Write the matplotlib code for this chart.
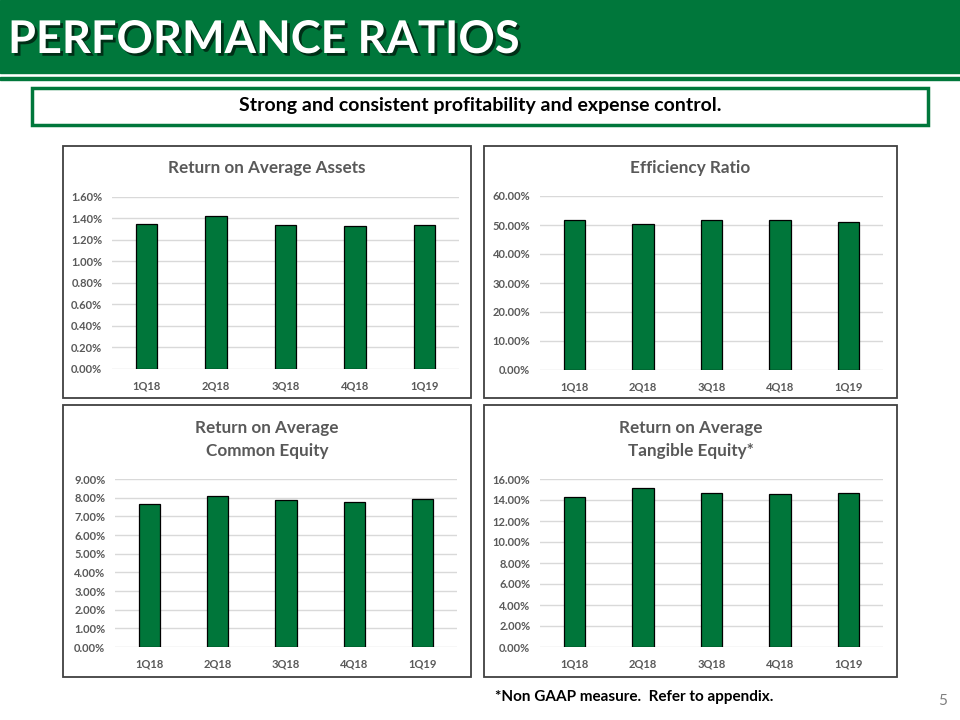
import matplotlib.pyplot as plt
import matplotlib.patches as pat
import matplotlib.patheffects as pe
from matplotlib.ticker import FuncFormatter

#---------------------- ** DATA ** ----------------------#
quarters = ['1Q18', '2Q18', '3Q18', '4Q18', '1Q19']
roaa = [1.35, 1.42, 1.34, 1.33, 1.34]
efficiency = [51.6, 50.5, 51.7, 51.6, 51.1]
roace = [7.66, 8.10, 7.86, 7.78, 7.91]
roate = [14.31, 15.17, 14.67, 14.57, 14.67]

GREEN = '#00763A'
GRAY = '#595959'
FONT = 'Lato'
W, H = 960, 720

plt.rcParams['font.family'] = [FONT, 'DejaVu Sans']
plt.rcParams['font.weight'] = 'bold'


#convert pixel box (left, top, right, bottom) into figure fractions
def px(l, t, r, b):
    return [l / W, 1 - b / H, (r - l) / W, (b - t) / H]


fig = plt.figure(figsize=(9.6, 7.2), dpi=100)
fig.patch.set_facecolor('white')

#header band
fig.add_artist(pat.Rectangle((0, 1 - 73 / H), 1, 73 / H, transform=fig.transFigure,
                             color='#00773B', zorder=0))
fig.add_artist(pat.Rectangle((0, 1 - 80 / H), 1, 3 / H, transform=fig.transFigure,
                             color='#00773B', zorder=0))
title = fig.text(8 / W, 1 - 40 / H, 'PERFORMANCE RATIOS', color='white', fontsize=32.5,
                 fontweight='bold', ha='left', va='center')
title.set_path_effects([pe.withSimplePatchShadow(offset=(2, -2), shadow_rgbFace='black', alpha=0.6)])

#subtitle box
fig.add_artist(pat.Rectangle((32 / W, 1 - 125 / H), 896 / W, 37 / H, transform=fig.transFigure,
                             facecolor='white', edgecolor='#00773B', linewidth=2.5))
fig.text(480 / W, 1 - 106 / H, 'Strong and consistent profitability and expense control.',
         fontsize=14, fontweight='bold', ha='center', va='center', color='black')

#panels: (values, title, frame box, axes box, ymax, step, title y positions)
panels = [
    (roaa, ['Return on Average Assets'], (63, 146, 471, 398), (112, 197, 459, 369), 1.6, 0.2, [168]),
    (efficiency, ['Efficiency Ratio'], (484, 146, 897, 398), (540, 196, 883, 370), 60, 10, [168]),
    (roace, ['Return on Average', 'Common Equity'], (63, 405, 471, 677), (115, 479, 457, 647), 9, 1, [428, 451]),
    (roate, ['Return on Average', 'Tangible Equity*'], (484, 405, 897, 677), (540, 479, 883, 647), 16, 2, [428, 451]),
]

for values, lines, frame, box, ymax, step, ty in panels:
    l, t, r, b = frame
    fig.add_artist(pat.Rectangle((l / W, 1 - b / H), (r - l) / W, (b - t) / H, transform=fig.transFigure,
                                 facecolor='none', edgecolor='#404040', linewidth=1.3))
    for line, y in zip(lines, ty):
        fig.text((l + r) / 2 / W, 1 - y / H, line, fontsize=12.3, fontweight='bold',
                 color=GRAY, ha='center', va='center')

    ax = fig.add_axes(px(*box))
    ax.bar(range(len(quarters)), values, width=0.31, color=GREEN, edgecolor='black',
           linewidth=0.9, zorder=3)
    ax.set_xlim(-0.5, len(quarters) - 0.5)
    ax.set_ylim(0, ymax)
    ticks = [i * step for i in range(int(round(ymax / step)) + 1)]
    ax.set_yticks(ticks)
    ax.yaxis.set_major_formatter(FuncFormatter(lambda v, p: f'{v:.2f}%'))
    ax.set_xticks(range(len(quarters)))
    ax.set_xticklabels(quarters)
    ax.grid(axis='y', color='#D9D9D9', linewidth=1, zorder=0)
    ax.set_axisbelow(True)
    for s in ax.spines.values():
        s.set_visible(False)
    ax.tick_params(axis='both', length=0, labelsize=8, labelcolor=GRAY)
    ax.tick_params(axis='y', pad=7)
    ax.tick_params(axis='x', pad=8)

#footer
fig.text(495 / W, 1 - 697 / H, '*Non GAAP measure.  Refer to appendix.', fontsize=11,
         fontweight='bold', color='black', ha='left', va='center')
fig.text(943 / W, 1 - 701 / H, '5', fontsize=11, fontweight='normal', color='#7F7F7F',
         ha='center', va='center')

fig.savefig('out.png', dpi=100, facecolor='white')
